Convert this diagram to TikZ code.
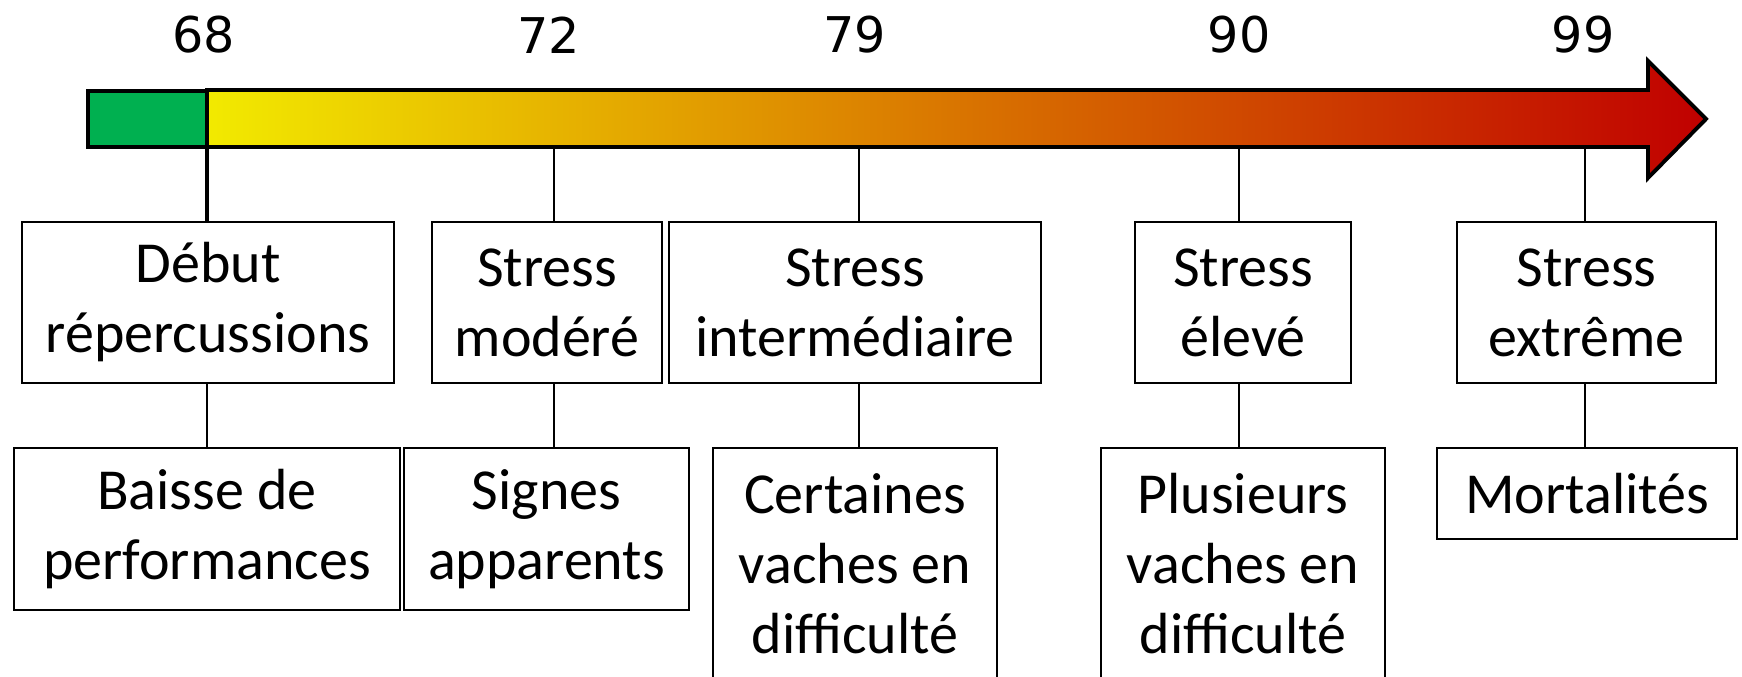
\documentclass[tikz,border=0pt]{standalone}
\usepackage{fontspec}
\setmainfont{Carlito}
\newfontfamily\numfont{DejaVu Sans}
\usetikzlibrary{positioning,calc}
\definecolor{barG}{HTML}{00B050}
\definecolor{barY}{HTML}{F2EA00}
\definecolor{barO}{HTML}{D87A00}
\definecolor{barR}{HTML}{C00000}
\tikzset{
  box/.style={draw, line width=0.7pt, align=center, inner sep=0pt,
    font=\fontsize{16.5}{19.9}\selectfont},
  numlabel/.style={font=\numfont\fontsize{14}{16}\selectfont},
  tick/.style={line width=0.7pt}
}

\begin{document}
\begin{tikzpicture}[x=0.01cm, y=-0.01cm]
  \useasboundingbox (0,0) rectangle (1742,677);
  \clip (0,0) rectangle (1742,677);
  % ------------------------------------------------------------------ bar
  \draw[line width=1pt, fill=barG] (88,91) rectangle (207,147);
  \shadedraw[line width=1.1pt, left color=barY, middle color=barO, right color=barR]
    (207,90) -- (1648,90) -- (1648,61) -- (1706,119) -- (1648,178) -- (1648,147) -- (207,147) -- cycle;
  \foreach \v/\x/\lx in {68/207/204, 72/554/549, 79/859/855, 90/1239/1239, 99/1585/1583} {
    \node[numlabel] (n\v) at (\lx,35) {\v};
    \coordinate (t\v) at (\x,147);
  }
  % ------------------------------------------------------------------ levels
  \node[box, minimum width=3.72cm, minimum height=1.61cm] (deb) at (208,302.5) {Début\\répercussions};
  \node[box, minimum width=2.30cm, minimum height=1.61cm] (mod) at (547,302.5) {Stress\\modéré};
  \node[box, minimum width=3.72cm, minimum height=1.61cm] (int) at (855,302.5) {Stress\\intermédiaire};
  \node[box, minimum width=2.16cm, minimum height=1.61cm] (ele) at (1243,302.5) {Stress\\élevé};
  \node[box, minimum width=2.59cm, minimum height=1.61cm] (ext) at (1586.5,302.5) {Stress\\extrême};
  % ------------------------------------------------------------------ effects
  \node[box, minimum width=3.86cm, minimum height=1.62cm] (bai) at (207,529) {Baisse de\\performances};
  \node[box, minimum width=2.85cm, minimum height=1.62cm] (sig) at (546.5,529) {Signes\\apparents};
  \node[box, minimum width=2.84cm, minimum height=2.32cm] (cer) at (855,564) {Certaines\\vaches en\\difficulté};
  \node[box, minimum width=2.84cm, minimum height=2.32cm] (plu) at (1243,564) {Plusieurs\\vaches en\\difficulté};
  \node[box, minimum width=3.00cm, minimum height=0.91cm] (mor) at (1587,493.5) {Mortalités};
  % ------------------------------------------------------------------ links
  \draw[line width=1pt] (t68) -- (t68 |- deb.north);
  \foreach \t/\a in {72/mod, 79/int, 90/ele, 99/ext} {\draw[tick] (t\t) -- (t\t |- \a.north);}
  \foreach \t/\a/\b in {68/deb/bai, 72/mod/sig, 79/int/cer, 90/ele/plu, 99/ext/mor} {
    \draw[tick] (t\t |- \a.south) -- (t\t |- \b.north);
  }
\end{tikzpicture}
\end{document}
